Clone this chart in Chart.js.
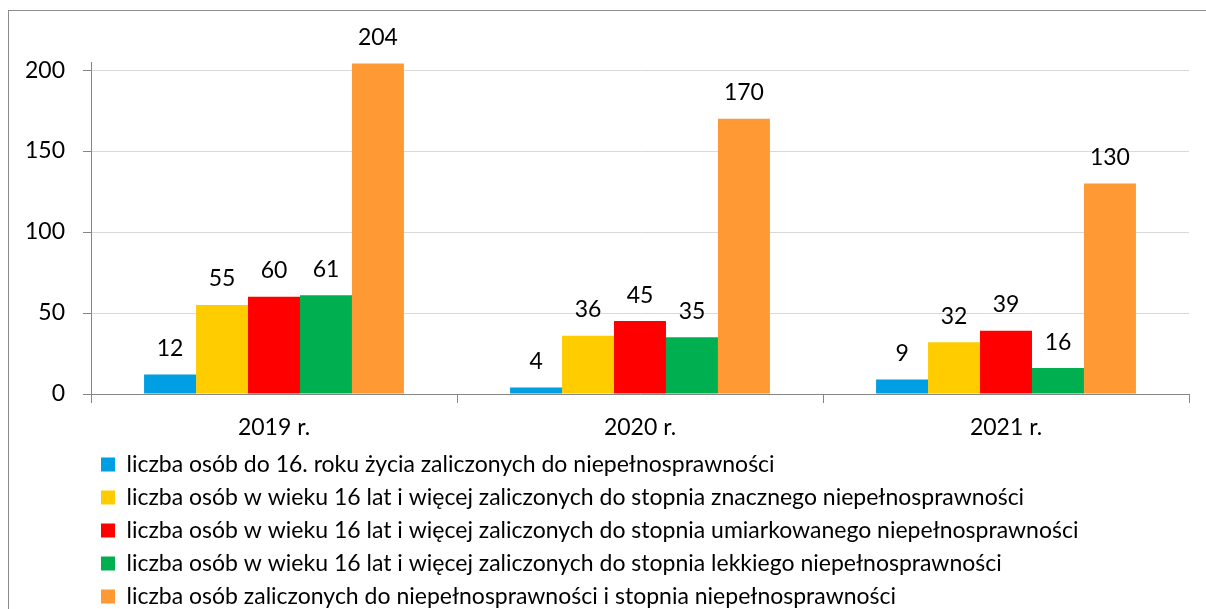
<!DOCTYPE html>
<html>
<head>
<meta charset="utf-8">
<script src="https://cdn.jsdelivr.net/npm/chart.js@4/dist/chart.umd.min.js"></script>
<style>
  html, body { margin: 0; padding: 0; width: 1206px; height: 609px; overflow: hidden; background: #fff; }
  #wrap { position: absolute; left: 0; top: 0; width: 1206px; height: 630px; }
  #frame { position: absolute; left: 8px; top: 10px; width: 1300px; height: 700px; border: 1px solid #8c8c8c; pointer-events: none; }
</style>
</head>
<body>
<div id="frame"></div>
<div id="wrap"><canvas id="c" width="1206" height="630"></canvas></div>
<script>
const categories = ['2019 r.', '2020 r.', '2021 r.'];
const seriesNames = [
  'liczba osób do 16. roku życia zaliczonych do niepełnosprawności',
  'liczba osób w wieku 16 lat i więcej zaliczonych do stopnia znacznego niepełnosprawności',
  'liczba osób w wieku 16 lat i więcej zaliczonych do stopnia umiarkowanego niepełnosprawności',
  'liczba osób w wieku 16 lat i więcej zaliczonych do stopnia lekkiego niepełnosprawności',
  'liczba osób zaliczonych do niepełnosprawności i stopnia niepełnosprawności'
];
const under16 = [12, 4, 9];
const significant = [55, 36, 32];
const moderate = [60, 45, 39];
const light = [61, 35, 16];
const total = [204, 170, 130];
const yTicks = [0, 50, 100, 150, 200];

const seriesValues = [under16, significant, moderate, light, total];
const colors = ['#009FE3', '#FFCC00', '#FF0000', '#00B050', '#FF9933'];
const FONT = 'Lato';
const FS = 23;

const valueLabels = {
  id: 'valueLabels',
  afterDatasetsDraw(chart) {
    const ctx = chart.ctx;
    ctx.save();
    ctx.font = FS + 'px ' + FONT;
    ctx.fillStyle = '#000';
    ctx.textAlign = 'center';
    ctx.textBaseline = 'middle';
    chart.data.datasets.forEach((ds, i) => {
      const meta = chart.getDatasetMeta(i);
      meta.data.forEach((bar, j) => {
        ctx.fillText(String(ds.data[j]), bar.x, bar.y - 26);
      });
    });
    ctx.restore();
  }
};

new Chart(document.getElementById('c'), {
  type: 'bar',
  data: {
    labels: categories,
    datasets: seriesNames.map((name, i) => ({
      label: name,
      data: seriesValues[i],
      backgroundColor: colors[i],
      borderWidth: 0,
      categoryPercentage: 0.71,
      barPercentage: 1.0
    }))
  },
  options: {
    responsive: false,
    animation: false,
    devicePixelRatio: 1,
    layout: { padding: { left: 0, right: 17, top: 62, bottom: 12 } },
    plugins: {
      tooltip: { enabled: false },
      legend: {
        position: 'bottom',
        align: 'start',
        fullSize: false,
        labels: {
          boxWidth: 14,
          boxHeight: 14,
          padding: 10,
          color: '#000',
          font: { family: FONT, size: FS }
        }
      }
    },
    scales: {
      x: {
        afterFit: scale => { scale.height = 49; },
        grid: {
          display: true,
          drawOnChartArea: false,
          drawTicks: true,
          tickLength: 9,
          color: '#868686',
          offset: true
        },
        border: { display: true, color: '#868686', width: 1 },
        ticks: { color: '#000', font: { family: FONT, size: FS }, padding: 11 }
      },
      y: {
        min: 0,
        max: 205,
        afterBuildTicks: axis => { axis.ticks = yTicks.map(v => ({ value: v })); },
        afterFit: scale => { scale.width = 91; },
        grid: {
          color: '#D9D9D9',
          tickColor: '#868686',
          tickLength: 8,
          lineWidth: 1
        },
        border: { display: true, color: '#868686', width: 1 },
        ticks: { color: '#000', font: { family: FONT, size: FS }, padding: 18 }
      }
    }
  },
  plugins: [valueLabels]
});
</script>
</body>
</html>
